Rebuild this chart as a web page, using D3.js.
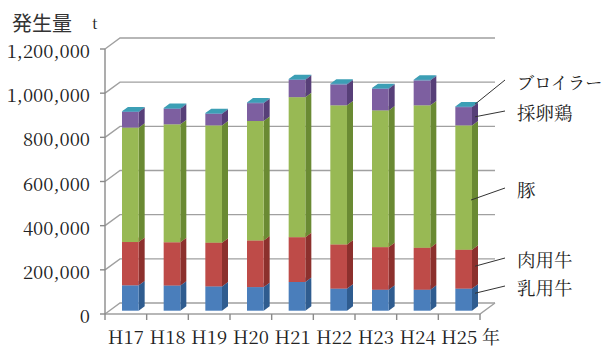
<!DOCTYPE html>
<html>
<head>
<meta charset="utf-8">
<script src="https://cdn.jsdelivr.net/npm/d3@7"></script>
<style>
  html, body { margin: 0; padding: 0; background: #fff; }
  svg { display: block; }
</style>
</head>
<body>
<script>
// 家畜排せつ物の発生量（t）
const categories = ["H17", "H18", "H19", "H20", "H21", "H22", "H23", "H24", "H25"];
const dairy   = [115000, 114000, 110000, 107000, 130000, 100000,  95000,  95000, 100000]; // 乳用牛
const beef    = [196000, 196000, 198000, 211000, 203000, 200000, 193000, 190000, 176000]; // 肉用牛
const pig     = [518000, 534000, 531000, 541000, 634000, 630000, 619000, 645000, 563000]; // 豚
const layer   = [ 71000,  71000,  53000,  81000,  79000,  95000,  98000, 113000,  83000]; // 採卵鶏
const broiler = [  3000,   3000,   3000,   3000,   3000,   3000,   3000,   3000,   3000]; // ブロイラー
const seriesNames = ["乳用牛", "肉用牛", "豚", "採卵鶏", "ブロイラー"];
const yTicks = [0, 200000, 400000, 600000, 800000, 1000000, 1200000];

const W = 607, H = 351;
const svg = d3.select("body").append("svg").attr("width", W).attr("height", H);

const x = d3.scaleBand().domain(categories).range([105, 480]);
const y = d3.scaleLinear().domain([0, 1200000]).range([314, 49]);

// oblique depth of the 3-D box (walls) and of the columns inside it
const DX = 15, DY = -11;
const BF = 0.3, BD = 0.4;
const bw = x.bandwidth() * 0.4;

const fronts = ["#4a7ebb", "#be4b48", "#98b954", "#7d5fa0", "#46aac5"];
const sides  = ["#2f5c8f", "#8c302d", "#6a8a33", "#573f78", "#2f8aa3"];
const tops   = ["#6d9ad0", "#d27370", "#b3cf7c", "#9c83bb", "#3c9fb5"];

const font = '"Noto Serif CJK JP", "Liberation Serif", serif';
const gothic = '"Noto Sans CJK JP", sans-serif';
const gridColor = "#a0a0a0";

// back wall gridlines with the diagonal on the side wall, plus value ticks
const grid = svg.append("g").attr("fill", "none").attr("stroke", gridColor).attr("stroke-width", 1.4);
yTicks.forEach(t => {
  const yy = y(t);
  grid.append("path").attr("d", `M${x.range()[0]},${yy}L${x.range()[0] + DX},${yy + DY}L${x.range()[1] + DX},${yy + DY}`);
  grid.append("path").attr("d", `M${x.range()[0] - 5},${yy}L${x.range()[0]},${yy}`).attr("stroke", "#8a8a8a");
});

// floor outline
grid.append("path")
  .attr("d", `M${x.range()[0]},${y(0)}L${x.range()[1]},${y(0)}L${x.range()[1] + DX},${y(0) + DY}`);

// value axis line
svg.append("path")
  .attr("d", `M${x.range()[0]},${y(1200000)}L${x.range()[0]},${y(0)}`)
  .attr("stroke", "#8a8a8a").attr("stroke-width", 1.4).attr("fill", "none");

// category ticks at band boundaries
const bounds = categories.map(c => x(c)).concat([x.range()[1]]);
svg.append("g").selectAll("path").data(bounds).join("path")
  .attr("d", b => `M${b},${y(0)}L${b},${y(0) + 6}`)
  .attr("stroke", "#8a8a8a").attr("stroke-width", 1.4);

// stacked 3-D columns
const series = [dairy, beef, pig, layer, broiler];
const offX = DX * BF, offY = DY * BF;
const depX = DX * BD, depY = DY * BD;

const bars = svg.append("g");
categories.forEach((c, i) => {
  const fx0 = x(c) + x.bandwidth() / 2 + offX - bw / 2;
  const fx1 = fx0 + bw;
  let base = 0;
  series.forEach((s, k) => {
    const v = s[i];
    const yb = y(base) + offY;
    const yt = y(base + v) + offY;
    const g = bars.append("g");
    g.append("path")
      .attr("d", `M${fx1},${yb}L${fx1 + depX},${yb + depY}L${fx1 + depX},${yt + depY}L${fx1},${yt}Z`)
      .attr("fill", sides[k]);
    g.append("path")
      .attr("d", `M${fx0},${yt}L${fx1},${yt}L${fx1 + depX},${yt + depY}L${fx0 + depX},${yt + depY}Z`)
      .attr("fill", tops[k]);
    g.append("rect")
      .attr("x", fx0).attr("y", yt).attr("width", bw).attr("height", Math.max(0, yb - yt))
      .attr("fill", fronts[k]);
    base += v;
  });
});

// value labels
const fmt = d3.format(",");
svg.append("g").selectAll("text").data(yTicks).join("text")
  .attr("x", 90).attr("y", t => y(t) + 9)
  .attr("text-anchor", "end")
  .style("font-family", font).style("font-size", "18.5px").attr("fill", "#222")
  .text(t => fmt(t));

// category labels
svg.append("g").selectAll("text").data(categories).join("text")
  .attr("x", c => x(c) + x.bandwidth() / 2)
  .attr("y", 344)
  .attr("text-anchor", "middle")
  .style("font-family", font).style("font-size", "18.5px").attr("fill", "#222")
  .text(c => c);

svg.append("text").attr("x", x.range()[1] + 2).attr("y", 344)
  .style("font-family", font).style("font-size", "18px").attr("fill", "#222").text("年");

// axis title
svg.append("text").attr("x", 12).attr("y", 31)
  .style("font-family", gothic).style("font-size", "20px").attr("fill", "#333").text("発生量");
svg.append("text").attr("x", 92).attr("y", 29)
  .style("font-family", font).style("font-size", "15px").attr("fill", "#222").text("t");

// series labels with leader lines to the last column
const last = categories.length - 1;
const lc = categories[last];
const lx0 = x(lc) + x.bandwidth() / 2 + offX - bw / 2;
const labelY = [295, 267, 197, 120, 89];
const labelSize = [18.5, 18.5, 18.5, 18.5, 17.2];
const leadFrac = [0.69, 0.52, 0.4, 0.35, 1.0];
const leadX = [lx0 + bw + depX / 2, lx0 + bw + depX / 2, lx0 + bw - 1, lx0 + bw + depX / 2, lx0 + bw + depX / 2];
let cum = 0;
const labels = svg.append("g");
series.forEach((s, k) => {
  const v = s[last];
  const ey = y(cum + v * leadFrac[k]) + offY + (k === 2 ? 0 : depY / 2);
  const ly = labelY[k];
  labels.append("path")
    .attr("d", `M${leadX[k]},${ey}L505,${ly - 9}`)
    .attr("stroke", "#333").attr("stroke-width", 1).attr("fill", "none");
  labels.append("text")
    .attr("x", 517).attr("y", ly)
    .style("font-family", font).style("font-size", labelSize[k] + "px").attr("fill", "#222")
    .text(seriesNames[k]);
  cum += v;
});
</script>
</body>
</html>
